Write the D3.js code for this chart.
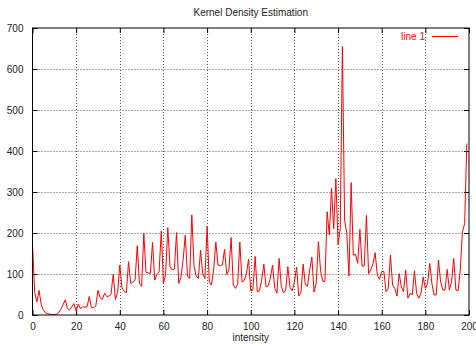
<!DOCTYPE html>
<html>
<head>
<meta charset="utf-8">
<script src="https://cdn.jsdelivr.net/npm/d3@7"></script>
<style>
  html, body { margin: 0; padding: 0; background: #fff; }
  svg { display: block; font-family: "Liberation Sans", Arial, Helvetica, sans-serif; }
</style>
</head>
<body>
<svg id="chart" width="476" height="346"></svg>
<script>
// Estimated density per intensity level (intensity = array index)
const density = [
  172, 55, 32, 60, 25, 12, 5, 3, 2, 1,
  1, 2, 6, 14, 25, 37, 16, 12, 20, 28,
  9, 27, 16, 20, 19, 20, 45, 18, 18, 22,
  60, 42, 38, 53, 45, 46, 52, 100, 38, 55,
  122, 67, 58, 54, 130, 77, 80, 85, 169, 77,
  70, 199, 104, 103, 101, 177, 85, 99, 105, 205,
  77, 100, 213, 118, 110, 112, 201, 77, 92, 134,
  195, 95, 89, 244, 120, 95, 89, 158, 100, 89,
  216, 81, 73, 110, 178, 122, 120, 122, 160, 99,
  110, 189, 73, 65, 75, 178, 81, 84, 100, 136,
  59, 61, 143, 57, 59, 85, 124, 69, 71, 90,
  122, 65, 53, 138, 70, 54, 60, 118, 67, 59,
  80, 117, 46, 55, 124, 74, 70, 110, 141, 56,
  78, 179, 108, 82, 82, 252, 195, 309, 210, 333,
  171, 210, 655, 231, 199, 95, 323, 146, 148, 126,
  209, 119, 120, 243, 101, 110, 125, 152, 97, 87,
  106, 106, 57, 65, 146, 73, 65, 46, 101, 69,
  57, 110, 41, 53, 49, 108, 53, 41, 53, 93,
  65, 77, 126, 77, 49, 49, 134, 81, 61, 61,
  111, 61, 81, 138, 61, 59, 110, 203, 223, 418
];
const intensity = density.map((_, i) => i);

const xTicks = [0, 20, 40, 60, 80, 100, 120, 140, 160, 180, 200];
const yTicks = [0, 100, 200, 300, 400, 500, 600, 700];

const chartTitle = "Kernel Density Estimation";
const xLabel = "intensity";
const seriesName = "line 1";

const svg = d3.select("#chart");
const margin = { left: 32.5, right: 7, top: 28, bottom: 31 };
const W = 476, H = 346;
const x = d3.scaleLinear().domain([0, 200]).range([margin.left, W - margin.right]);
const y = d3.scaleLinear().domain([0, 700]).range([H - margin.bottom, margin.top]);

const x0 = x.range()[0], x1 = x.range()[1];
const yb = y.range()[0], yt = y.range()[1];

// dotted grid
const grid = svg.append("g").attr("stroke", "#555").attr("stroke-width", 1)
  .attr("stroke-dasharray", "1,2");
xTicks.slice(1, -1).forEach(t => {
  grid.append("line").attr("x1", Math.round(x(t)) + 0.5).attr("x2", Math.round(x(t)) + 0.5)
    .attr("y1", yt).attr("y2", yb);
});
yTicks.slice(1, -1).forEach(t => {
  grid.append("line").attr("y1", Math.round(y(t)) + 0.5).attr("y2", Math.round(y(t)) + 0.5)
    .attr("x1", x0).attr("x2", x1);
});

// axes with inward ticks, mirrored on opposite sides
const tickLen = 5;
const fontSize = 10;
const xAxisB = d3.axisBottom(x).tickValues(xTicks).tickSizeInner(-tickLen).tickSizeOuter(0).tickPadding(8);
const xAxisT = d3.axisTop(x).tickValues(xTicks).tickSizeInner(-tickLen).tickSizeOuter(0).tickFormat("");
const yAxisL = d3.axisLeft(y).tickValues(yTicks).tickSizeInner(-tickLen).tickSizeOuter(0).tickPadding(9);
const yAxisR = d3.axisRight(y).tickValues(yTicks).tickSizeInner(-tickLen).tickSizeOuter(0).tickFormat("");

function styleAxis(g) {
  g.select(".domain").remove();
  g.selectAll(".tick line").attr("stroke", "#000");
  g.selectAll(".tick text").attr("fill", "#222").attr("font-size", fontSize)
    .attr("font-family", "'Liberation Sans', Arial, sans-serif");
}
svg.append("g").attr("transform", `translate(0,${yb})`).call(xAxisB).call(styleAxis);
svg.append("g").attr("transform", `translate(0,${yt})`).call(xAxisT).call(styleAxis);
svg.append("g").attr("transform", `translate(${x0},0)`).call(yAxisL).call(styleAxis);
svg.append("g").attr("transform", `translate(${x1},0)`).call(yAxisR).call(styleAxis);

// density curve
const line = d3.line().x((d, i) => x(intensity[i])).y(d => y(d));
svg.append("path").datum(density)
  .attr("fill", "none").attr("stroke", "#ff0000").attr("stroke-width", 1)
  .attr("stroke-linejoin", "miter")
  .attr("d", line);

// frame
svg.append("rect").attr("x", x0).attr("y", yt).attr("width", x1 - x0).attr("height", yb - yt)
  .attr("fill", "none").attr("stroke", "#000").attr("stroke-width", 1);

// title and axis label
svg.append("text").attr("x", (x0 + x1) / 2).attr("y", 16).attr("text-anchor", "middle")
  .attr("font-size", 10).attr("fill", "#222").text(chartTitle);
svg.append("text").attr("x", (x0 + x1) / 2).attr("y", 341).attr("text-anchor", "middle")
  .attr("font-size", 10).attr("fill", "#222").text(xLabel);

// legend
svg.append("text").attr("x", 425).attr("y", 40).attr("text-anchor", "end")
  .attr("font-size", 10).attr("fill", "#ff0000").text(seriesName);
svg.append("line").attr("x1", 432).attr("x2", 458).attr("y1", 36.5).attr("y2", 36.5)
  .attr("stroke", "#ff0000").attr("stroke-width", 1);
</script>
</body>
</html>
